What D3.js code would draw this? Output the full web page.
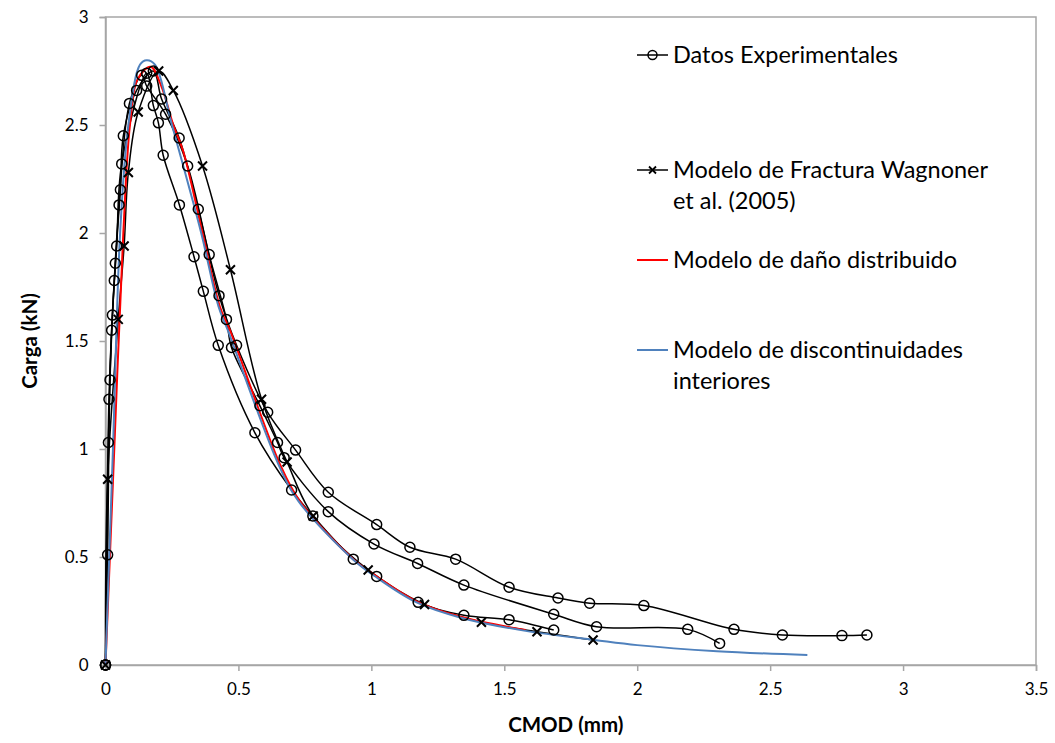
<!DOCTYPE html>
<html>
<head>
<meta charset="utf-8">
<script src="https://cdn.jsdelivr.net/npm/d3@7"></script>
<style>
  html, body { margin: 0; padding: 0; background: #fff; }
  svg text { font-family: Lato, "Open Sans", sans-serif; fill: #000; }
</style>
</head>
<body>
<svg id="chart" width="1055" height="743"></svg>
<script>
// CMOD (mm) vs load (kN) — three experimental tests
const exp1 = [
  [0, 0], [0.011, 1.03], [0.023, 1.55], [0.037, 1.86], [0.056, 2.20], [0.067, 2.45],
  [0.117, 2.66], [0.18, 2.75], [0.211, 2.62], [0.277, 2.44], [0.349, 2.11], [0.427, 1.71],
  [0.493, 1.48], [0.61, 1.17], [0.715, 0.995], [0.838, 0.80], [1.02, 0.65], [1.145, 0.545],
  [1.317, 0.49], [1.518, 0.36], [1.702, 0.31], [1.821, 0.286], [2.025, 0.275], [2.364, 0.165],
  [2.546, 0.139], [2.77, 0.136], [2.864, 0.139]
];
const exp2 = [
  [0, 0], [0.008, 0.51], [0.017, 1.32], [0.033, 1.78], [0.051, 2.13], [0.09, 2.60],
  [0.136, 2.73], [0.155, 2.68], [0.226, 2.55], [0.309, 2.31], [0.39, 1.90], [0.455, 1.60],
  [0.474, 1.47], [0.581, 1.20], [0.647, 1.03], [0.672, 0.96], [0.838, 0.71], [1.01, 0.56],
  [1.174, 0.47], [1.348, 0.37], [1.686, 0.235], [1.847, 0.177], [2.19, 0.165], [2.31, 0.10]
];
const exp3 = [
  [0, 0], [0.013, 1.23], [0.026, 1.62], [0.042, 1.94], [0.061, 2.32], [0.155, 2.74],
  [0.18, 2.59], [0.199, 2.51], [0.217, 2.36], [0.278, 2.13], [0.333, 1.89], [0.368, 1.73],
  [0.424, 1.48], [0.562, 1.075], [0.70, 0.81], [0.78, 0.69], [0.932, 0.49], [1.02, 0.41],
  [1.176, 0.29], [1.348, 0.23], [1.518, 0.21], [1.686, 0.162]
];
// Fracture model (Wagnoner et al., 2005)
const wagnoner = [
  [0, 0], [0.008, 0.86], [0.048, 1.60], [0.070, 1.94], [0.086, 2.28], [0.123, 2.56],
  [0.2, 2.75], [0.255, 2.66], [0.365, 2.31], [0.47, 1.83], [0.587, 1.23], [0.683, 0.94],
  [0.781, 0.69], [0.988, 0.44], [1.20, 0.28], [1.414, 0.198], [1.623, 0.154], [1.834, 0.116]
];
// Distributed damage model
const damage = [
  [0, 0], [0.033, 1.0], [0.067, 2.0], [0.092, 2.5], [0.12, 2.71], [0.17, 2.77],
  [0.21, 2.68], [0.255, 2.5], [0.292, 2.38], [0.365, 2.0], [0.43, 1.66], [0.468, 1.55],
  [0.656, 0.93], [0.73, 0.76], [0.932, 0.49], [1.02, 0.41], [1.17, 0.295], [1.34, 0.222],
  [1.58, 0.162]
];
// Embedded discontinuities model
const discont = [
  [0, 0], [0.028, 1.0], [0.055, 2.0], [0.086, 2.5], [0.13, 2.78], [0.155, 2.80],
  [0.186, 2.78], [0.25, 2.5], [0.36, 2.0], [0.425, 1.66], [0.46, 1.55], [0.65, 0.93],
  [0.725, 0.76], [0.93, 0.49], [1.02, 0.405], [1.17, 0.29], [1.34, 0.218], [1.58, 0.158],
  [1.84, 0.116], [2.0, 0.092], [2.3, 0.064], [2.64, 0.046]
];
const xTicks = [0, 0.5, 1, 1.5, 2, 2.5, 3, 3.5];
const yTicks = [0, 0.5, 1, 1.5, 2, 2.5, 3];
const legendLabels = [
  ["Datos Experimentales"],
  ["Modelo de Fractura Wagnoner", "et al. (2005)"],
  ["Modelo de daño distribuido"],
  ["Modelo de discontinuidades", "interiores"]
];

const svg = d3.select("#chart");
const m = { left: 105.5, top: 17, right: 1036, bottom: 665 };
const x = d3.scaleLinear().domain([0, 3.5]).range([m.left, m.right]);
const y = d3.scaleLinear().domain([0, 3]).range([m.bottom, m.top]);
const axisColor = "#a6a6a6";

// plot frame
svg.append("rect")
  .attr("x", m.left).attr("y", m.top)
  .attr("width", m.right - m.left).attr("height", m.bottom - m.top)
  .attr("fill", "none").attr("stroke", axisColor).attr("stroke-width", 1.5);

// axes
const gx = svg.append("g").attr("transform", `translate(0,${m.bottom})`)
  .call(d3.axisBottom(x).tickValues(xTicks).tickSize(6).tickPadding(12)
    .tickFormat(d => String(d)));
const gy = svg.append("g").attr("transform", `translate(${m.left},0)`)
  .call(d3.axisLeft(y).tickValues(yTicks).tickSize(6).tickPadding(11)
    .tickFormat(d => String(d)));
[gx, gy].forEach(g => {
  g.select(".domain").attr("stroke", axisColor).attr("stroke-width", 1.5);
  g.selectAll(".tick line").attr("stroke", axisColor).attr("stroke-width", 1.5);
  g.selectAll(".tick text").attr("font-size", 17).attr("fill", "#000")
    .style("font-family", "Lato, sans-serif");
});

// axis titles
svg.append("text").attr("x", (m.left + m.right) / 2 - 5).attr("y", 732)
  .attr("text-anchor", "middle").attr("font-size", 20.5).attr("font-weight", "bold")
  .text("CMOD (mm)");
svg.append("text").attr("transform", "translate(37,341) rotate(-90)")
  .attr("text-anchor", "middle").attr("font-size", 20.5).attr("font-weight", "bold")
  .text("Carga (kN)");

const line = d3.line().x(d => x(d[0])).y(d => y(d[1]))
  .curve(d3.curveCatmullRom.alpha(0.5));

function circles(g, data) {
  g.selectAll("circle.mk").data(data).join("circle").attr("class", "mk")
    .attr("cx", d => x(d[0])).attr("cy", d => y(d[1])).attr("r", 5)
    .attr("fill", "none").attr("stroke", "#000").attr("stroke-width", 1.5);
}
function crosses(g, data) {
  const s = 4.5;
  g.selectAll("path.mk").data(data).join("path").attr("class", "mk")
    .attr("d", d => {
      const cx = x(d[0]), cy = y(d[1]);
      return `M${cx - s},${cy - s}L${cx + s},${cy + s}M${cx - s},${cy + s}L${cx + s},${cy - s}`;
    })
    .attr("stroke", "#000").attr("stroke-width", 2);
}

const plot = svg.append("g");
[exp1, exp2, exp3].forEach(s => {
  plot.append("path").datum(s).attr("d", line)
    .attr("fill", "none").attr("stroke", "#000").attr("stroke-width", 1.5);
});
plot.append("path").datum(wagnoner).attr("d", line)
  .attr("fill", "none").attr("stroke", "#000").attr("stroke-width", 1.5);
plot.append("path").datum(damage).attr("d", line)
  .attr("fill", "none").attr("stroke", "#ff0000").attr("stroke-width", 2);
plot.append("path").datum(discont).attr("d", line)
  .attr("fill", "none").attr("stroke", "#4f81bd").attr("stroke-width", 2);
[exp1, exp2, exp3].forEach(s => circles(plot.append("g"), s));
crosses(plot.append("g"), wagnoner);

// legend
const legY = [55, 170, 260, 350];
const legX0 = 637, legX1 = 668, textX = 673;
const legStyles = [
  { color: "#000", w: 1.5, marker: "circle" },
  { color: "#000", w: 1.5, marker: "cross" },
  { color: "#ff0000", w: 2, marker: null },
  { color: "#4f81bd", w: 2, marker: null }
];
const leg = svg.append("g");
legendLabels.forEach((lines, i) => {
  const g = leg.append("g");
  const st = legStyles[i];
  g.append("line").attr("x1", legX0).attr("x2", legX1)
    .attr("y1", legY[i]).attr("y2", legY[i])
    .attr("stroke", st.color).attr("stroke-width", st.w);
  const cx = (legX0 + legX1) / 2;
  if (st.marker === "circle") {
    g.append("circle").attr("cx", cx).attr("cy", legY[i]).attr("r", 4.5)
      .attr("fill", "none").attr("stroke", "#000").attr("stroke-width", 1.5);
  } else if (st.marker === "cross") {
    const s = 3.5;
    g.append("path")
      .attr("d", `M${cx - s},${legY[i] - s}L${cx + s},${legY[i] + s}M${cx - s},${legY[i] + s}L${cx + s},${legY[i] - s}`)
      .attr("stroke", "#000").attr("stroke-width", 1.8);
  }
  lines.forEach((t, j) => {
    g.append("text").attr("x", textX).attr("y", legY[i] + j * 31)
      .attr("dy", "0.35em").attr("font-size", 23.5).text(t);
  });
});
</script>
</body>
</html>
